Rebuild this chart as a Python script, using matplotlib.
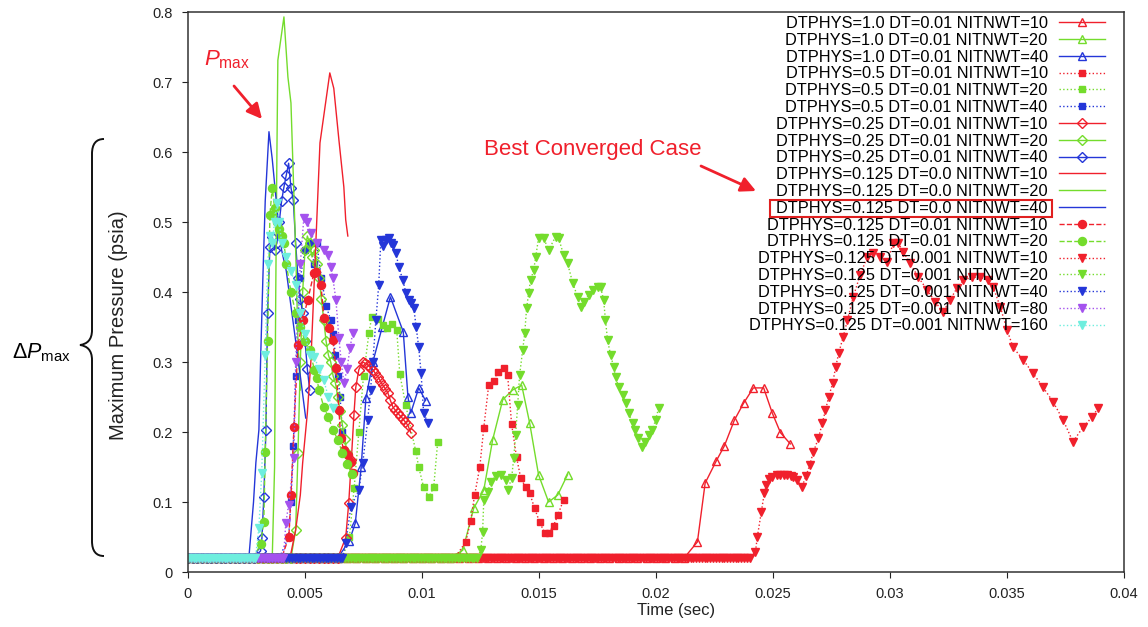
#!/usr/bin/python
"""
    Maximum pressure history for the time-step / sub-iteration
    convergence study (DTPHYS, DT, NITNWT).
"""

# import python third party modules
import matplotlib
matplotlib.use('Agg')
import matplotlib.pyplot as plt
from matplotlib.patches import FancyArrowPatch, PathPatch, Rectangle
from matplotlib.path import Path
import numpy as np

# define global variables
P_BASE = 0.02  # initial pressure level before the pulse (psia)

# flat part of every run: end time of the plateau and output step (sec)
BASE_END = [0.0214, 0.0113, 0.0066, 0.0116, 0.0066, 0.0042, 0.0066, 0.0045,
            0.0030, 0.0043, 0.00365, 0.00277, 0.0042, 0.0030, 0.0241, 0.0124,
            0.0067, 0.0041, 0.0030]
BASE_STEP = [0.0004, 0.0004, 0.0004, 0.0003, 0.0003, 0.0003, 0.0002, 0.0002,
             0.0002, 0.0002, 0.0002, 0.0002, 0.0002, 0.0002, 0.00012, 0.00012,
             0.00012, 0.00012, 0.00012]

LABELS = [
    'DTPHYS=1.0 DT=0.01 NITNWT=10', 'DTPHYS=1.0 DT=0.01 NITNWT=20',
    'DTPHYS=1.0 DT=0.01 NITNWT=40', 'DTPHYS=0.5 DT=0.01 NITNWT=10',
    'DTPHYS=0.5 DT=0.01 NITNWT=20', 'DTPHYS=0.5 DT=0.01 NITNWT=40',
    'DTPHYS=0.25 DT=0.01 NITNWT=10', 'DTPHYS=0.25 DT=0.01 NITNWT=20',
    'DTPHYS=0.25 DT=0.01 NITNWT=40', 'DTPHYS=0.125 DT=0.0 NITNWT=10',
    'DTPHYS=0.125 DT=0.0 NITNWT=20', 'DTPHYS=0.125 DT=0.0 NITNWT=40',
    'DTPHYS=0.125 DT=0.01 NITNWT=10', 'DTPHYS=0.125 DT=0.01 NITNWT=20',
    'DTPHYS=0.125 DT=0.001 NITNWT=10', 'DTPHYS=0.125 DT=0.001 NITNWT=20',
    'DTPHYS=0.125 DT=0.001 NITNWT=40', 'DTPHYS=0.125 DT=0.001 NITNWT=80',
    'DTPHYS=0.125 DT=0.001 NITNWT=160',
]
BEST_CASE = 11  # index of the best converged case

# pulse part of every run: time (sec) and maximum pressure (psia)
T01 = [0.02177, 0.0221, 0.02258, 0.02292, 0.02335, 0.02374, 0.02416, 0.0246,
       0.02497, 0.02532, 0.02574]
P01 = [0.043, 0.127, 0.159, 0.18, 0.217, 0.241, 0.263, 0.263, 0.227, 0.199,
       0.183]
T02 = [0.01174, 0.01221, 0.01264, 0.01302, 0.01345, 0.01387, 0.01426, 0.0146,
       0.01498, 0.01541, 0.0158, 0.01622]
P02 = [0.031, 0.091, 0.117, 0.189, 0.246, 0.26, 0.267, 0.213, 0.139, 0.1,
       0.11, 0.139]
T03 = [0.0069, 0.00715, 0.0074, 0.0076, 0.0079, 0.0083, 0.00865, 0.0092,
       0.0094, 0.00952, 0.00986, 0.01015]
P03 = [0.045, 0.07, 0.15, 0.248, 0.30, 0.35, 0.393, 0.343, 0.25, 0.227, 0.263,
       0.245]
T04 = [0.01187, 0.01208, 0.01225, 0.01247, 0.01264, 0.01285, 0.01306, 0.01323,
       0.01349, 0.01366, 0.01383, 0.01404, 0.01422, 0.01443, 0.0146, 0.01481,
       0.01503, 0.01524, 0.01541, 0.01562, 0.0158, 0.01605]
P04 = [0.043, 0.073, 0.11, 0.15, 0.206, 0.267, 0.273, 0.286, 0.291, 0.281,
       0.211, 0.164, 0.134, 0.121, 0.113, 0.091, 0.071, 0.056, 0.056, 0.066,
       0.081, 0.103]
T05 = [0.0069, 0.0071, 0.0073, 0.0075, 0.00773, 0.00785, 0.0081, 0.00832,
       0.0085, 0.0087, 0.00892, 0.00905, 0.0093, 0.00973, 0.00986, 0.01007,
       0.01029, 0.0105, 0.01067]
P05 = [0.05, 0.12, 0.2, 0.28, 0.341, 0.364, 0.361, 0.353, 0.349, 0.354, 0.346,
       0.283, 0.239, 0.173, 0.15, 0.121, 0.107, 0.121, 0.186]
T06 = [0.0043, 0.0044, 0.0045, 0.0046, 0.0047, 0.0048, 0.0050, 0.0052, 0.0054,
       0.0055, 0.0057, 0.0059, 0.0061, 0.0062, 0.0063, 0.0064, 0.0065, 0.0066]
P06 = [0.05, 0.1, 0.18, 0.28, 0.36, 0.42, 0.46, 0.47, 0.44, 0.47, 0.42, 0.38,
       0.36, 0.34, 0.31, 0.28, 0.25, 0.2]
T07 = [0.00674, 0.00687, 0.00698, 0.00709, 0.00717, 0.0073, 0.00747, 0.00758,
       0.00768, 0.00779, 0.0079, 0.008, 0.00811, 0.00822, 0.00832, 0.00843,
       0.00854, 0.00864, 0.00875, 0.00886, 0.00896, 0.00907, 0.00918, 0.00929,
       0.00939, 0.00952]
P07 = [0.049, 0.099, 0.16, 0.224, 0.264, 0.289, 0.3, 0.298, 0.296, 0.292,
       0.289, 0.284, 0.279, 0.273, 0.267, 0.262, 0.256, 0.246, 0.236, 0.231,
       0.227, 0.223, 0.219, 0.214, 0.21, 0.199]
T08 = [0.0046, 0.0047, 0.0048, 0.0049, 0.0050, 0.0051, 0.0052, 0.0053, 0.0054,
       0.0055, 0.0056, 0.0057, 0.0058, 0.0059, 0.0060, 0.0061, 0.0062, 0.0063,
       0.0064, 0.0065, 0.0066, 0.0067, 0.0068]
P08 = [0.06, 0.17, 0.30, 0.40, 0.46, 0.48, 0.47, 0.45, 0.46, 0.44, 0.42, 0.39,
       0.36, 0.33, 0.31, 0.30, 0.28, 0.27, 0.25, 0.23, 0.21, 0.19, 0.17]
T09 = [0.0031, 0.00316, 0.00324, 0.00333, 0.0034, 0.0035, 0.0036, 0.0037,
       0.0038, 0.0039, 0.0040, 0.0041, 0.0042, 0.0043, 0.0044, 0.0045, 0.0046,
       0.0047, 0.0048, 0.0049, 0.0050, 0.0051, 0.0052]
P09 = [0.03, 0.049, 0.107, 0.203, 0.37, 0.464, 0.479, 0.46, 0.47, 0.50, 0.53,
       0.55, 0.567, 0.584, 0.549, 0.531, 0.47, 0.42, 0.39, 0.37, 0.33, 0.29,
       0.26]
T10 = [0.0044, 0.0046, 0.0048, 0.0049, 0.0051, 0.00525, 0.00538, 0.00564,
       0.00606, 0.00623, 0.00645, 0.00666, 0.00674, 0.00683]
P10 = [0.027, 0.06, 0.11, 0.156, 0.227, 0.30, 0.403, 0.613, 0.713, 0.691,
       0.617, 0.55, 0.503, 0.48]
T11 = [0.0037, 0.00375, 0.0038, 0.00384, 0.0041, 0.00427, 0.0044, 0.00461,
       0.0047, 0.0048]
P11 = [0.15, 0.4, 0.6, 0.731, 0.793, 0.707, 0.67, 0.45, 0.33, 0.26]
T12 = [0.0028, 0.0029, 0.00303, 0.0031, 0.0032, 0.0033, 0.00346, 0.0036,
       0.0038, 0.0040, 0.0042, 0.0044, 0.0046, 0.0048, 0.00503]
P12 = [0.1, 0.156, 0.203, 0.3, 0.42, 0.53, 0.629, 0.59, 0.52, 0.46, 0.43,
       0.38, 0.33, 0.28, 0.22]
T13 = [0.00431, 0.0044, 0.00453, 0.0047, 0.0049, 0.00512, 0.00538, 0.00546,
       0.00568, 0.00581, 0.00602, 0.00619, 0.00632, 0.00645, 0.00653, 0.00666,
       0.00683, 0.00696, 0.00704]
P13 = [0.05, 0.11, 0.207, 0.324, 0.36, 0.389, 0.427, 0.429, 0.41, 0.363,
       0.349, 0.331, 0.291, 0.231, 0.191, 0.174, 0.167, 0.157, 0.141]
T14 = [0.0031, 0.00324, 0.0033, 0.0034, 0.0035, 0.0036, 0.0037, 0.0038,
       0.0039, 0.0040, 0.0041, 0.0042, 0.0044, 0.0046, 0.0048, 0.0050, 0.0052,
       0.0054, 0.0055, 0.0056, 0.0058, 0.0060, 0.0062, 0.0064, 0.0066, 0.0068,
       0.0070]
P14 = [0.04, 0.071, 0.171, 0.33, 0.51, 0.549, 0.52, 0.50, 0.49, 0.48, 0.47,
       0.44, 0.40, 0.37, 0.35, 0.33, 0.317, 0.289, 0.277, 0.26, 0.236, 0.221,
       0.203, 0.189, 0.17, 0.155, 0.14]
T15 = [0.02425, 0.02433, 0.0245, 0.02463, 0.02472, 0.02485, 0.02497, 0.02515,
       0.02532, 0.02546, 0.02561, 0.02575, 0.02587, 0.02604, 0.02623, 0.02641,
       0.02657, 0.02672, 0.02694, 0.02711, 0.02724, 0.02738, 0.02755, 0.02768,
       0.02781, 0.028, 0.02818, 0.02843, 0.02873, 0.02903, 0.02929, 0.02958,
       0.02988, 0.03014, 0.03035, 0.03057, 0.03086, 0.03121, 0.03159, 0.03193,
       0.03227, 0.03257, 0.03287, 0.03313, 0.03351, 0.03385, 0.03419, 0.03441,
       0.03471, 0.035, 0.03526, 0.03569, 0.03611, 0.03654, 0.03697, 0.0374,
       0.03782, 0.03825, 0.03863, 0.03889]
P15 = [0.029, 0.05, 0.086, 0.113, 0.124, 0.133, 0.136, 0.138, 0.139, 0.139,
       0.138, 0.137, 0.136, 0.131, 0.121, 0.137, 0.153, 0.171, 0.191, 0.213,
       0.231, 0.25, 0.27, 0.293, 0.313, 0.336, 0.36, 0.393, 0.425, 0.45, 0.456,
       0.45, 0.443, 0.47, 0.47, 0.457, 0.441, 0.421, 0.403, 0.386, 0.371,
       0.389, 0.406, 0.417, 0.421, 0.421, 0.417, 0.407, 0.379, 0.346, 0.321,
       0.303, 0.284, 0.264, 0.243, 0.217, 0.186, 0.207, 0.221, 0.234]
T16 = [0.01251, 0.01259, 0.01264, 0.01281, 0.01293, 0.01315, 0.01336, 0.01358,
       0.01366, 0.01383, 0.01392, 0.014, 0.01409, 0.01417, 0.0143, 0.01439,
       0.01447, 0.01456, 0.01464, 0.01477, 0.01486, 0.01498, 0.0152, 0.01541,
       0.01571, 0.01584, 0.01605, 0.01622, 0.01644, 0.01665, 0.01678, 0.01691,
       0.01712, 0.01729, 0.0175, 0.01763, 0.01776, 0.01784, 0.01793, 0.01806,
       0.01819, 0.01827, 0.0184, 0.01857, 0.0187, 0.01883, 0.019, 0.01912,
       0.01925, 0.01942, 0.01955, 0.01968, 0.01985, 0.01998, 0.02011]
P16 = [0.031, 0.057, 0.103, 0.114, 0.129, 0.137, 0.139, 0.131, 0.117, 0.134,
       0.163, 0.196, 0.239, 0.281, 0.317, 0.341, 0.377, 0.399, 0.417, 0.431,
       0.45, 0.477, 0.477, 0.46, 0.479, 0.477, 0.453, 0.441, 0.413, 0.393,
       0.379, 0.386, 0.396, 0.403, 0.407, 0.407, 0.389, 0.36, 0.331, 0.31,
       0.293, 0.279, 0.264, 0.253, 0.241, 0.227, 0.213, 0.203, 0.191, 0.179,
       0.186, 0.196, 0.203, 0.217, 0.234]
T17 = [0.00674, 0.00696, 0.0073, 0.00747, 0.00768, 0.0078, 0.0079, 0.00803,
       0.00815, 0.00824, 0.00835, 0.00845, 0.00858, 0.00866, 0.00875, 0.00888,
       0.00901, 0.00918, 0.00931, 0.00943, 0.00955, 0.00965, 0.00975, 0.00986,
       0.00996, 0.01007, 0.01025]
P17 = [0.041, 0.093, 0.117, 0.156, 0.217, 0.26, 0.30, 0.36, 0.41, 0.474,
       0.466, 0.474, 0.477, 0.47, 0.467, 0.456, 0.436, 0.417, 0.399, 0.389,
       0.385, 0.377, 0.35, 0.321, 0.284, 0.227, 0.213]
T18 = [0.00418, 0.0043, 0.00453, 0.0046, 0.0048, 0.00495, 0.0051, 0.00525,
       0.0055, 0.0058, 0.00598, 0.0061, 0.00619, 0.00632, 0.00645, 0.00655,
       0.00666, 0.0068, 0.00692, 0.00704]
P18 = [0.07, 0.096, 0.163, 0.3, 0.44, 0.506, 0.5, 0.484, 0.47, 0.46, 0.453,
       0.436, 0.42, 0.389, 0.334, 0.30, 0.27, 0.29, 0.32, 0.341]
T19 = [0.00303, 0.00315, 0.0033, 0.0034, 0.0035, 0.0036, 0.0037, 0.0038,
       0.0039, 0.0040, 0.0042, 0.0044, 0.0046, 0.0048, 0.0050, 0.0052, 0.0054,
       0.0056, 0.0058, 0.0060, 0.0062]
P19 = [0.063, 0.141, 0.31, 0.44, 0.48, 0.47, 0.50, 0.527, 0.50, 0.47, 0.45,
       0.43, 0.41, 0.37, 0.34, 0.31, 0.307, 0.29, 0.274, 0.25, 0.234]

T_PULSE = [T01, T02, T03, T04, T05, T06, T07, T08, T09, T10, T11, T12, T13,
           T14, T15, T16, T17, T18, T19]
P_PULSE = [P01, P02, P03, P04, P05, P06, P07, P08, P09, P10, P11, P12, P13,
           P14, P15, P16, P17, P18, P19]

XTICKS = [0.0, 0.005, 0.01, 0.015, 0.02, 0.025, 0.03, 0.035, 0.04]
XTICKLABELS = ['0', '0.005', '0.01', '0.015', '0.02', '0.025', '0.03',
               '0.035', '0.04']
YTICKS = [0.0, 0.1, 0.2, 0.3, 0.4, 0.5, 0.6, 0.7, 0.8]
YTICKLABELS = ['0', '0.1', '0.2', '0.3', '0.4', '0.5', '0.6', '0.7', '0.8']

# line styles: colour, line style, marker, open marker
RED = '#f0202c'
GREEN = '#74dc2c'
BLUE = '#2436d8'
PURPLE = '#a452ee'
CYAN = '#6eeede'
STYLES = [
    (RED, '-', '^', True), (GREEN, '-', '^', True), (BLUE, '-', '^', True),
    (RED, ':', 's', False), (GREEN, ':', 's', False), (BLUE, ':', 's', False),
    (RED, '-', 'D', True), (GREEN, '-', 'D', True), (BLUE, '-', 'D', True),
    (RED, '-', None, False), (GREEN, '-', None, False),
    (BLUE, '-', None, False),
    (RED, '--', 'o', False), (GREEN, '--', 'o', False),
    (RED, ':', 'v', False), (GREEN, ':', 'v', False), (BLUE, ':', 'v', False),
    (PURPLE, ':', 'v', False), (CYAN, ':', 'v', False),
]
MSIZE = {'^': 6.0, 's': 4.8, 'D': 4.6, 'o': 5.8, 'v': 5.4}

FIG_W, FIG_H = 1148, 627


# define methods
def full_run(ind: int):
    """
        Join the flat start of a run with its pressure pulse.
    """
    t_flat = np.arange(0.0, BASE_END[ind], BASE_STEP[ind])
    t_all = np.concatenate([t_flat, T_PULSE[ind]])
    p_all = np.concatenate([np.full(t_flat.size, P_BASE), P_PULSE[ind]])
    return t_all, p_all


def fpx(x_px: float, y_px: float):
    """
        Pixel position (from top-left) to figure fraction.
    """
    return x_px / FIG_W, 1.0 - y_px / FIG_H


def plot_pressure(filename: str):
    """
        Plot the maximum pressure histories and save the figure.
    """
    plt.rcParams['font.family'] = ['Liberation Sans', 'DejaVu Sans']
    plt.rcParams['mathtext.fontset'] = 'custom'
    plt.rcParams['mathtext.rm'] = 'Liberation Sans'
    plt.rcParams['mathtext.it'] = 'Liberation Sans:italic'

    fig = plt.figure(figsize=(FIG_W / 100, FIG_H / 100), dpi=100)
    x0, y0 = fpx(188, 572)
    x1, y1 = fpx(1124, 12)
    ax = fig.add_axes([x0, y0, x1 - x0, y1 - y0])

    for ind, (color, ls, mk, hollow) in enumerate(STYLES):
        t_all, p_all = full_run(ind)
        ax.plot(t_all, p_all, color=color, linestyle=ls, linewidth=1.0,
                marker=mk, markersize=MSIZE.get(mk, 0),
                markerfacecolor='none' if hollow else color,
                markeredgecolor=color, markeredgewidth=1.0,
                label=LABELS[ind])

    ax.set_xlim(0.0, 0.04)
    ax.set_ylim(0.0, 0.8)
    ax.set_xticks(XTICKS)
    ax.set_xticklabels(XTICKLABELS)
    ax.set_yticks(YTICKS)
    ax.set_yticklabels(YTICKLABELS)
    ax.tick_params(direction='out', length=4, width=0.8, labelsize=10.5,
                   colors='#222222', pad=7)
    for spine in ax.spines.values():
        spine.set_color('#333333')
        spine.set_linewidth(1.1)

    fig.text(*fpx(119, 325), 'Maximum Pressure (psia)', rotation=90,
             ha='center', va='center', fontsize=14.5, color='#222222')
    fig.text(*fpx(676, 610), 'Time (sec)', ha='center', va='center',
             fontsize=12, color='#222222')

    # legend with the key on the right of the text
    leg = ax.legend(loc='upper right', bbox_to_anchor=(1 - 19 / 936,
                    1 - 4 / 560), frameon=False, markerfirst=False,
                    fontsize=11.8, labelspacing=0.11, handlelength=2.8,
                    handletextpad=0.7, borderpad=0.0, borderaxespad=0.0)

    # red box round the best converged case
    fig.canvas.draw()
    bb = leg.get_texts()[BEST_CASE].get_window_extent()
    fig.add_artist(Rectangle((bb.x0 - 6, bb.y0 - 1), bb.width + 10,
                             bb.height + 2, transform=None, fill=False,
                             edgecolor='#e02020', linewidth=1.5))

    # annotations
    fig.text(*fpx(204, 60), r'$P_{\rm max}$', color=RED, fontsize=16,
             ha='left', va='center')
    fig.text(*fpx(484, 150), 'Best Converged Case', color=RED,
             fontsize=16, ha='left', va='center')
    for tail, head in [((234, 86), (262, 119)), ((701, 166), (756, 191))]:
        fig.add_artist(FancyArrowPatch(
            fpx(*tail), fpx(*head), transform=fig.transFigure,
            arrowstyle='-|>,head_length=9,head_width=4.5', color=RED,
            linewidth=2.0, shrinkA=0, shrinkB=0))

    fig.text(*fpx(12, 353), r'$\Delta P_{\rm max}$', color='black',
             fontsize=15.5, ha='left', va='center')

    # curly brace spanning the pressure rise
    pts = [(104, 139), (96, 139), (92, 144), (92, 154), (92, 330), (92, 340),
           (87, 344), (80, 345), (87, 346), (92, 350), (92, 360), (92, 541),
           (92, 551), (96, 556), (104, 556)]
    codes = [Path.MOVETO, Path.CURVE4, Path.CURVE4, Path.CURVE4, Path.LINETO,
             Path.CURVE4, Path.CURVE4, Path.CURVE4, Path.CURVE4, Path.CURVE4,
             Path.CURVE4, Path.LINETO, Path.CURVE4, Path.CURVE4, Path.CURVE4]
    brace = Path([fpx(*p) for p in pts], codes)
    fig.add_artist(PathPatch(brace, transform=fig.transFigure, fill=False,
                             edgecolor='#111111', linewidth=1.4))

    fig.savefig(filename, dpi=100)
    plt.close(fig)


# testing functions
if __name__ == '__main__':
    plot_pressure('out.png')
